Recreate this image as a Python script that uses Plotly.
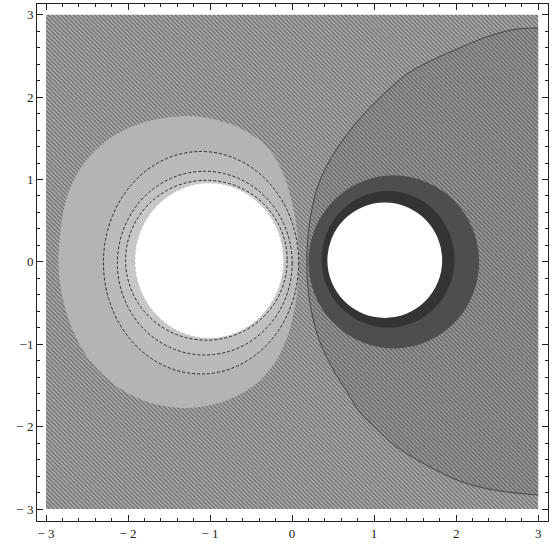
import plotly.graph_objects as go

# ---- data (x, y in axis units) ----
data_range = [-3, 3]

# big contour arc on the right (from top edge to bottom edge)
arc_x = [3.0, 2.70, 2.37, 2.05, 1.69, 1.40, 1.12, 0.88, 0.68, 0.48, 0.31, 0.21, 0.18,
         0.21, 0.33, 0.52, 0.66, 0.82, 1.02, 1.24, 1.52, 1.74, 2.04, 2.32, 2.60, 3.0]
arc_y = [2.84, 2.82, 2.73, 2.60, 2.44, 2.28, 2.04, 1.80, 1.56, 1.27, 0.91, 0.45, 0.0,
         -0.45, -0.95, -1.34, -1.56, -1.82, -2.02, -2.22, -2.40, -2.52, -2.66, -2.74, -2.79, -2.83]

# outer egg-shaped contour around the left conductor
egg_x = [-1.30, -0.90, -0.55, -0.28, -0.10, 0.02, 0.08, 0.07, -0.01, -0.15, -0.38, -0.70,
         -1.05, -1.40, -1.82, -2.20, -2.52, -2.73, -2.84, -2.83, -2.74, -2.55, -2.25, -1.85]
egg_y = [1.77, 1.72, 1.58, 1.36, 1.05, 0.62, 0.15, -0.30, -0.75, -1.12, -1.43, -1.64,
         -1.75, -1.77, -1.68, -1.46, -1.12, -0.68, -0.18, 0.32, 0.80, 1.18, 1.48, 1.68]

# near-circular contours: centre x, centre y, radius x, radius y
left_cx = [-1.11, -1.065, -1.045, -1.01]
left_cy = [-0.01, -0.015, 0.02, 0.015]
left_rx = [1.19, 1.065, 0.985, 0.90]
left_ry = [1.35, 1.115, 0.97, 0.935]
left_fill = ["#bababa", "#c0c0c0", "#c7c7c7", "#ffffff"]
left_line = [True, True, True, False]

right_cx = [1.24, 1.17, 1.13]
right_cy = [0.0, 0.03, 0.02]
right_rx = [1.04, 0.81, 0.70]
right_ry = [1.05, 0.83, 0.70]
right_fill = ["#4e4e4e", "#343434", "#ffffff"]

line_color = "#2a2a2a"

x_ticks = [-3, -2, -1, 0, 1, 2, 3]
x_ticktext = ["\u2212 3", "\u2212 2", "\u2212 1", "0", "1", "2", "3"]
y_ticks = [-3, -2, -1, 0, 1, 2, 3]
y_ticktext = ["\u2212 3", "\u2212 2", "\u22121", "0", "1", "2", "3"]

x_range = [-3.11, 3.12]
y_range = [-3.145, 3.13]

fig = go.Figure()

# plotted square background (dark diagonal hatching)
fig.add_trace(go.Scatter(
    x=[data_range[0], data_range[1], data_range[1], data_range[0]],
    y=[data_range[0], data_range[0], data_range[1], data_range[1]],
    fill="toself", mode="none", hoverinfo="skip", showlegend=False,
    fillcolor="#b2b2b2",
    fillpattern=dict(shape="\\", size=3, solidity=0.5, fgcolor="#2e2e2e", bgcolor="#b2b2b2")))

# region inside the big right arc (slightly darker hatching)
fig.add_trace(go.Scatter(
    x=arc_x, y=arc_y, fill="toself", mode="none",
    line=dict(shape="spline"), hoverinfo="skip", showlegend=False,
    fillcolor="#a2a2a2",
    fillpattern=dict(shape="\\", size=3, solidity=0.55, fgcolor="#2a2a2a", bgcolor="#a2a2a2")))
fig.add_trace(go.Scatter(
    x=arc_x, y=arc_y, mode="lines", line=dict(color=line_color, width=1, shape="spline"),
    opacity=0.7, hoverinfo="skip", showlegend=False))

# egg region (light dotted)
fig.add_trace(go.Scatter(
    x=egg_x + egg_x[:3], y=egg_y + egg_y[:3], fill="toself", mode="none",
    line=dict(shape="spline"), hoverinfo="skip", showlegend=False,
    fillcolor="#b4b4b4"))

shapes = []
for cx, cy, rx, ry, fc, ln in zip(left_cx, left_cy, left_rx, left_ry, left_fill, left_line):
    shapes.append(dict(type="circle", xref="x", yref="y", layer="above",
                       x0=cx - rx, x1=cx + rx, y0=cy - ry, y1=cy + ry, fillcolor=fc,
                       line=dict(color=line_color if ln else fc, width=1, dash="3px,2px")))
for cx, cy, rx, ry, fc in zip(right_cx, right_cy, right_rx, right_ry, right_fill):
    shapes.append(dict(type="circle", xref="x", yref="y", layer="above",
                       x0=cx - rx, x1=cx + rx, y0=cy - ry, y1=cy + ry, fillcolor=fc,
                       line=dict(width=0)))

# invisible trace on the mirrored (top/right) axes so they carry minor ticks too
fig.add_trace(go.Scatter(x=x_range, y=y_range, xaxis="x2", yaxis="y2", mode="none",
                         hoverinfo="skip", showlegend=False))

axis_common = dict(
    showgrid=False, zeroline=False, showline=True, linecolor="#222", linewidth=1,
    ticks="inside", ticklen=6, tickwidth=1, tickcolor="#222",
    minor=dict(ticks="inside", ticklen=3, dtick=0.2, tick0=0, tickwidth=1, tickcolor="#222"),
    tickfont=dict(family="Liberation Serif", size=13, color="#222"),
)

fig.update_layout(
    width=560, height=545, autosize=False,
    margin=dict(l=37, r=12, t=4, b=21),
    paper_bgcolor="white", plot_bgcolor="white",
    shapes=shapes, showlegend=False,
    xaxis=dict(range=x_range, tickvals=x_ticks, ticktext=x_ticktext, **axis_common),
    yaxis=dict(range=y_range, tickvals=y_ticks, ticktext=y_ticktext, **axis_common),
    xaxis2=dict(range=x_range, overlaying="x", side="top", tickvals=x_ticks,
                showticklabels=False, **axis_common),
    yaxis2=dict(range=y_range, overlaying="y", side="right", tickvals=y_ticks,
                showticklabels=False, **axis_common),
)

fig.write_html("out.html", config={"displayModeBar": False},
               post_script="document.body.style.margin='0px';")
